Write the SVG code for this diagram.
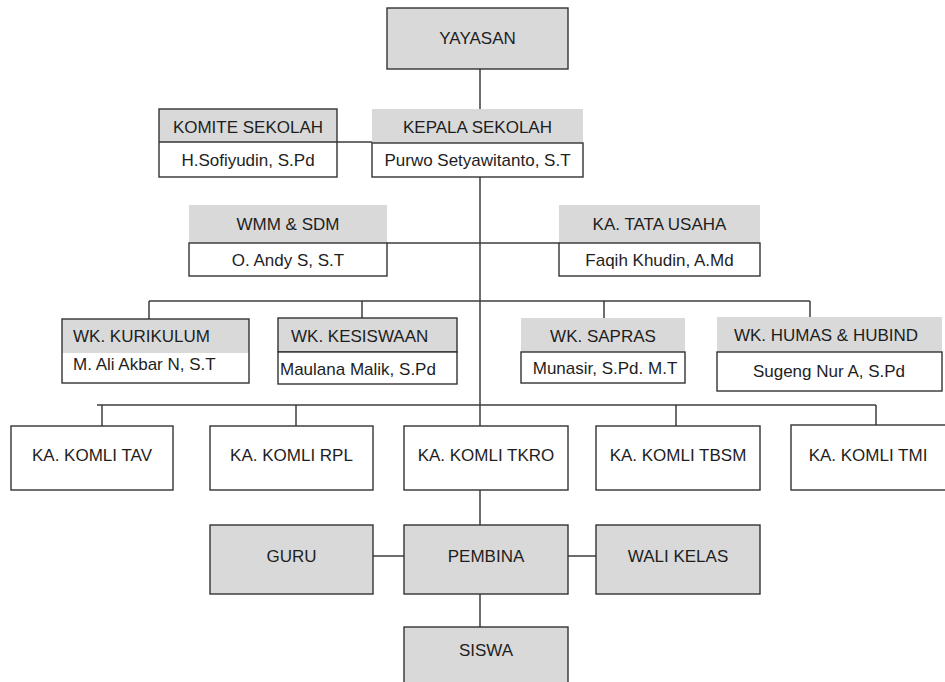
<svg xmlns="http://www.w3.org/2000/svg" width="945" height="682" viewBox="0 0 945 682">
<style>
.bg{fill:#ffffff}
.g{fill:#d9d9d9}
.gs{fill:#d9d9d9;stroke:#333333;stroke-width:1.4}
.w{fill:#ffffff;stroke:#333333;stroke-width:1.4}
.fr{fill:none;stroke:#333333;stroke-width:1.4}
.ln{stroke:#3c3c3c;stroke-width:1.5;fill:none}
text{font-family:"Liberation Sans",Arial,sans-serif;font-size:17px;fill:#1e1e1e;dominant-baseline:central}
.c{text-anchor:middle}
</style>
<rect class="bg" x="0" y="0" width="945" height="682"/>
<g id="connectors">
<line class="ln" x1="480" y1="69" x2="480" y2="109"/>
<line class="ln" x1="337" y1="142" x2="372" y2="142"/>
<line class="ln" x1="480" y1="177" x2="480" y2="525"/>
<line class="ln" x1="387" y1="243" x2="559" y2="243"/>
<line class="ln" x1="149" y1="301" x2="810" y2="301"/>
<line class="ln" x1="149" y1="301" x2="149" y2="319"/>
<line class="ln" x1="362" y1="301" x2="362" y2="318"/>
<line class="ln" x1="604" y1="301" x2="604" y2="318"/>
<line class="ln" x1="810" y1="301" x2="810" y2="317"/>
<line class="ln" x1="97" y1="405" x2="876" y2="405"/>
<line class="ln" x1="102" y1="405" x2="102" y2="426"/>
<line class="ln" x1="296" y1="405" x2="296" y2="426"/>
<line class="ln" x1="676" y1="405" x2="676" y2="426"/>
<line class="ln" x1="876" y1="405" x2="876" y2="425"/>
<line class="ln" x1="373" y1="556" x2="404" y2="556"/>
<line class="ln" x1="568" y1="556" x2="596" y2="556"/>
<line class="ln" x1="480" y1="594" x2="480" y2="627"/>
</g>
<g id="yayasan">
<rect class="gs" x="387" y="8" width="181" height="61"/>
<text class="c" x="477.5" y="38.5">YAYASAN</text>
</g>
<g id="komite">
<rect class="g" x="159" y="109" width="178" height="33"/>
<rect class="fr" x="159" y="109" width="178" height="68"/>
<line class="fr" x1="159" y1="142" x2="337" y2="142"/>
<text class="c" x="248" y="127">KOMITE SEKOLAH</text>
<text class="c" x="248" y="160">H.Sofiyudin, S.Pd</text>
</g>
<g id="kepala">
<rect class="g" x="372" y="109" width="211" height="34"/>
<rect class="w" x="372" y="143" width="211" height="34"/>
<text class="c" x="477.5" y="127">KEPALA SEKOLAH</text>
<text class="c" x="477.5" y="160">Purwo Setyawitanto, S.T</text>
</g>
<g id="wmm">
<rect class="g" x="189" y="205" width="198" height="38"/>
<rect class="w" x="189" y="243" width="198" height="33"/>
<text class="c" x="288" y="224">WMM &amp; SDM</text>
<text class="c" x="288" y="260">O. Andy S, S.T</text>
</g>
<g id="tatausaha">
<rect class="g" x="559" y="205" width="201" height="38"/>
<rect class="w" x="559" y="243" width="201" height="33"/>
<text class="c" x="659.5" y="224">KA. TATA USAHA</text>
<text class="c" x="659.5" y="260">Faqih Khudin, A.Md</text>
</g>
<g id="kurikulum">
<rect class="g" x="62" y="319" width="187" height="34"/>
<rect class="fr" x="62" y="319" width="187" height="64"/>
<text x="73" y="336">WK. KURIKULUM</text>
<text x="73" y="364">M. Ali Akbar N, S.T</text>
</g>
<g id="kesiswaan">
<rect class="gs" x="278" y="318" width="179" height="34"/>
<rect class="w" x="278" y="352" width="179" height="32"/>
<text x="291" y="336">WK. KESISWAAN</text>
<text x="280" y="369">Maulana Malik, S.Pd</text>
</g>
<g id="sapras">
<rect class="g" x="521" y="318" width="164" height="34"/>
<rect class="w" x="521" y="352" width="164" height="31"/>
<text class="c" x="603" y="336">WK. SAPRAS</text>
<text class="c" x="605" y="368">Munasir, S.Pd. M.T</text>
</g>
<g id="humas">
<rect class="g" x="717" y="317" width="225" height="35"/>
<rect class="w" x="717" y="352" width="225" height="39"/>
<text class="c" x="826" y="335">WK. HUMAS &amp; HUBIND</text>
<text class="c" x="829" y="371">Sugeng Nur A, S.Pd</text>
</g>
<g id="komli-tav">
<rect class="w" x="11" y="426" width="162" height="64"/>
<text class="c" x="92" y="455">KA. KOMLI TAV</text>
</g>
<g id="komli-rpl">
<rect class="w" x="210" y="426" width="163" height="64"/>
<text class="c" x="291.5" y="455">KA. KOMLI RPL</text>
</g>
<g id="komli-tkro">
<rect class="w" x="404" y="426" width="164" height="64"/>
<text class="c" x="486" y="455">KA. KOMLI TKRO</text>
</g>
<g id="komli-tbsm">
<rect class="w" x="596" y="426" width="164" height="64"/>
<text class="c" x="678" y="455">KA. KOMLI TBSM</text>
</g>
<g id="komli-tmi">
<rect class="w" x="791" y="425" width="165" height="65"/>
<text class="c" x="868" y="455">KA. KOMLI TMI</text>
</g>
<g id="guru">
<rect class="gs" x="210" y="525" width="163" height="69"/>
<text class="c" x="291.5" y="556">GURU</text>
</g>
<g id="pembina">
<rect class="gs" x="404" y="525" width="164" height="69"/>
<text class="c" x="486" y="556">PEMBINA</text>
</g>
<g id="walikelas">
<rect class="gs" x="596" y="525" width="164" height="69"/>
<text class="c" x="678" y="556">WALI KELAS</text>
</g>
<g id="siswa">
<rect class="gs" x="404" y="627" width="164" height="65"/>
<text class="c" x="486" y="650">SISWA</text>
</g>
</svg>
